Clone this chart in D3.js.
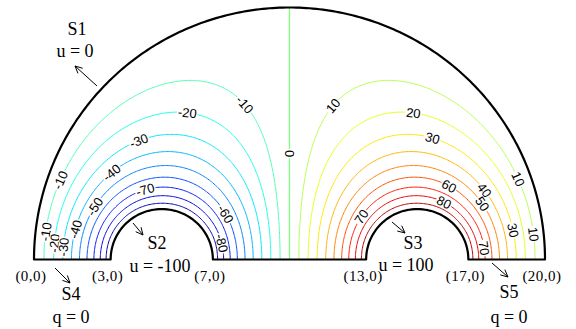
<!DOCTYPE html>
<html>
<head>
<meta charset="utf-8">
<script src="https://cdn.jsdelivr.net/npm/d3@7"></script>
<style>
  body { margin: 0; background: #fff; }
  svg { display: block; }
</style>
</head>
<body>
<svg id="chart"></svg>
<script>
// boundary conditions (Dirichlet values) and geometry, in problem units
const uOuter = 0, uLeftHole = -100, uRightHole = 100;
const outerCentre = 10, outerRadius = 10;
const holeCentres = [5, 15], holeRadius = 2;

// contour levels drawn
const levels = [-90, -80, -70, -60, -50, -40, -30, -20, -10, 0, 10, 20, 30, 40, 50, 60, 70, 80, 90];

// contour labels (level, approx x, approx y in problem units)
const labelLevels = [-10, -20, -30, -40, -70, -10, -50, -40, -10, -20, -30, -60, -80, 0, 10, 20, 30, 60, 80, 70, 40, 50, 10, 30, 10, 70];
const labelX = [8.14, 5.99, 4.15, 3.17, 4.42, 1.21, 2.47, 1.68, 0.43, 0.82, 1.13, 7.36, 7.36, 10.02, 11.78, 14.83, 15.58, 16.2, 16.0, 12.95, 17.53, 17.46, 18.9, 18.7, 19.4, 17.6];
const labelY = [6.06, 5.74, 4.62, 3.27, 2.55, 3.07, 2.03, 1.16, 1.08, 0.64, 0.48, 1.75, 0.68, 4.22, 6.06, 5.74, 4.74, 2.83, 2.15, 1.63, 2.67, 2.15, 3.15, 1.16, 0.96, 0.45];

// corner coordinates on the base line
const cornerX = [0, 3, 7, 13, 17, 20];
const cornerText = ["(0,0)", "(3,0)", "(7,0)", "(13,0)", "(17,0)", "(20,0)"];

const W = 576, H = 329;
const svg = d3.select("#chart").attr("width", W).attr("height", H);

const x = d3.scaleLinear().domain([0, 20]).range([34, 545]);
const y = d3.scaleLinear().domain([0, 10]).range([259.5, 7.5]);

// jet colour map over [-100, 100]
const clamp = v => Math.max(0, Math.min(1, v));
const jet = v => {
    const t = (v + 100) / 200;
    return d3.rgb(255 * clamp(1.5 - Math.abs(4 * t - 3)),
                  255 * clamp(1.5 - Math.abs(4 * t - 2)),
                  255 * clamp(1.5 - Math.abs(4 * t - 1))).formatHex();
};

// ---- solve Laplace on the half domain (q = 0 on the base line) ----
const h = 0.05;
const nx = Math.round(20 / h) + 1, ny = Math.round(10 / h) + 1;
const u = new Float64Array(nx * ny);
const fixed = new Uint8Array(nx * ny);
for (let j = 0; j < ny; j++) {
    for (let i = 0; i < nx; i++) {
        const X = i * h, Y = j * h, k = j * nx + i;
        if ((X - outerCentre) ** 2 + Y * Y >= outerRadius * outerRadius) { fixed[k] = 1; u[k] = uOuter; }
        else if ((X - holeCentres[0]) ** 2 + Y * Y <= holeRadius * holeRadius) { fixed[k] = 1; u[k] = uLeftHole; }
        else if ((X - holeCentres[1]) ** 2 + Y * Y <= holeRadius * holeRadius) { fixed[k] = 1; u[k] = uRightHole; }
    }
}
const w = 1.96;
for (let it = 0; it < 1400; it++) {
    for (let j = 0; j < ny - 1; j++) {
        const dn = j === 0 ? 1 : j - 1;
        for (let i = 1; i < nx - 1; i++) {
            const k = j * nx + i;
            if (fixed[k]) continue;
            const g = 0.25 * (u[k - 1] + u[k + 1] + u[k + nx] + u[dn * nx + i]);
            u[k] += w * (g - u[k]);
        }
    }
}

// ---- domain outline ----
function arcPts(cx, r, a0, a1, n) {
    return d3.range(n + 1).map(s => {
        const a = a0 + (a1 - a0) * s / n;
        return [x(cx + r * Math.cos(a)), y(r * Math.sin(a))];
    });
}
const outline = [].concat(
    [[x(0), y(0)], [x(holeCentres[0] - holeRadius), y(0)]],
    arcPts(holeCentres[0], holeRadius, Math.PI, 0, 60),
    [[x(holeCentres[1] - holeRadius), y(0)]],
    arcPts(holeCentres[1], holeRadius, Math.PI, 0, 60),
    [[x(20), y(0)]],
    arcPts(outerCentre, outerRadius, 0, Math.PI, 240)
);
const line = d3.line();

svg.append("clipPath").attr("id", "dom")
    .append("path").attr("d", line(outline) + "Z");

// ---- contours ----
const contours = d3.contours().size([nx, ny]).thresholds(levels)(Array.from(u));
const toPx = (p) => [x((p[0] - 0.5) * h), y((p[1] - 0.5) * h)];
const proj = d3.geoTransform({
    point: function(px, py) { const q = toPx([px, py]); this.stream.point(q[0], q[1]); }
});
const path = d3.geoPath(proj);

const cg = svg.append("g").attr("clip-path", "url(#dom)");
cg.selectAll("path")
    .data(contours)
    .join("path")
    .attr("d", path)
    .attr("fill", "none")
    .attr("stroke", d => jet(d.value))
    .attr("stroke-width", d => d.value === 0 ? 1.3 : 1);

// ---- contour labels ----
const lg = svg.append("g")
    .attr("font-family", "'Liberation Sans', Arial, sans-serif")
    .attr("font-size", 13)
    .attr("fill", "#000");

labelLevels.forEach((lev, n) => {
    const c = contours.find(d => d.value === lev);
    const ax = x(labelX[n]), ay = y(labelY[n]);
    let best = null, bd = Infinity;
    c.coordinates.forEach(poly => poly.forEach(ring => {
        const pts = ring.map(toPx);
        pts.forEach((p, k) => {
            const dd = (p[0] - ax) ** 2 + (p[1] - ay) ** 2;
            if (dd < bd) { bd = dd; best = { pts, k }; }
        });
    }));
    if (!best) return;
    const pts = best.pts, m = pts.length;
    const p0 = pts[(best.k - 4 + m) % m], p1 = pts[(best.k + 4) % m], pc = pts[best.k];
    let ang = Math.atan2(p1[1] - p0[1], p1[0] - p0[0]) * 180 / Math.PI;
    if (ang > 90) ang -= 180;
    if (ang <= -90) ang += 180;
    const g = lg.append("g").attr("transform", `translate(${pc[0]},${pc[1]}) rotate(${ang})`);
    const t = g.append("text").attr("text-anchor", "middle").attr("dy", "0.36em").text(lev);
    const tw = t.node().getComputedTextLength();
    g.insert("rect", "text")
        .attr("x", -tw / 2 - 1).attr("y", -5).attr("width", tw + 2).attr("height", 10)
        .attr("fill", "#fff");
});

// ---- boundary ----
svg.append("path")
    .attr("d", line(outline) + "Z")
    .attr("fill", "none")
    .attr("stroke", "#000")
    .attr("stroke-width", 2.2)
    .attr("stroke-linejoin", "round");

// ---- annotations ----
const ann = svg.append("g")
    .attr("font-family", "'Liberation Serif', 'Times New Roman', serif")
    .attr("fill", "#000")
    .attr("text-anchor", "middle");

function txt(s, cx, by, size) {
    ann.append("text").attr("x", cx).attr("y", by).attr("font-size", size).text(s);
}
function arrow(x1, y1, x2, y2) {
    const a = Math.atan2(y2 - y1, x2 - x1), L = 8, s = 0.45;
    const p = d3.path();
    p.moveTo(x1, y1); p.lineTo(x2, y2);
    p.moveTo(x2 - L * Math.cos(a - s), y2 - L * Math.sin(a - s));
    p.lineTo(x2, y2);
    p.lineTo(x2 - L * Math.cos(a + s), y2 - L * Math.sin(a + s));
    svg.append("path").attr("d", p.toString()).attr("fill", "none")
        .attr("stroke", "#000").attr("stroke-width", 1);
}

txt("S1", 77, 35, 18);
txt("u = 0", 75, 57, 18);
arrow(97, 86, 75, 66);

txt("S2", 157, 249, 18);
txt("u = -100", 160, 272, 18);
arrow(133, 223, 143, 235);

txt("S3", 413, 249, 18);
txt("u = 100", 406, 271, 18);
arrow(392, 222, 405, 233);

txt("S4", 71, 300, 18);
txt("q = 0", 71, 323, 18);
arrow(55, 268, 70, 283);

txt("S5", 509, 298, 18);
txt("q = 0", 509, 323, 18);
arrow(492, 263, 508, 277);

ann.selectAll("text.corner")
    .data(cornerX)
    .join("text")
    .attr("class", "corner")
    .attr("x", d => x(d) - 3)
    .attr("y", 281)
    .attr("font-size", 15)
    .attr("letter-spacing", 0.5)
    .text((d, i) => cornerText[i]);
</script>
</body>
</html>
